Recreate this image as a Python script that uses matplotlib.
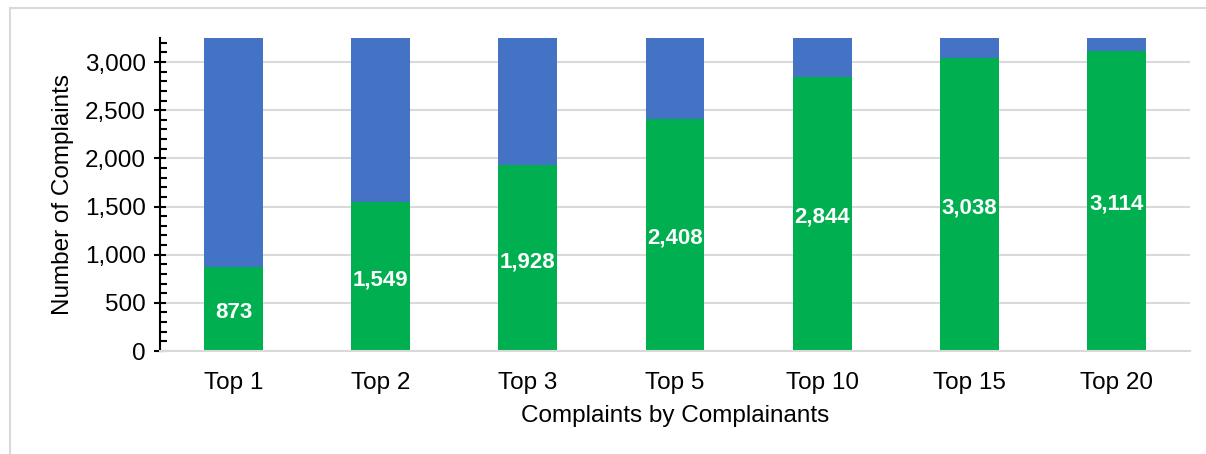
import numpy as np
import matplotlib.pyplot as plt
from matplotlib.lines import Line2D
from matplotlib.ticker import MultipleLocator, FuncFormatter

plt.rcParams['font.family'] = ['Liberation Sans', 'DejaVu Sans']

categories = ['Top 1', 'Top 2', 'Top 3', 'Top 5', 'Top 10', 'Top 15', 'Top 20']
by_top = [873, 1549, 1928, 2408, 2844, 3038, 3114]
total = [3250, 3250, 3250, 3250, 3250, 3250, 3250]

def main():
    fig = plt.figure(figsize=(12.06, 4.54), dpi=100)
    ax = fig.add_axes([160/1206, 1-351/454, 1030/1206, 313/454])

    x = np.arange(len(categories))
    rest = [t - v for t, v in zip(total, by_top)]
    green = '#00b050'
    blue = '#4472c4'

    ax.bar(x, by_top, width=0.4, color=green, zorder=2)
    ax.bar(x, rest, width=0.4, bottom=by_top, color=blue, zorder=2)

    for xi, v in zip(x, by_top):
        ax.text(xi, v/2 - 35, '{:,}'.format(v), ha='center', va='center',
                color='white', fontsize=16, fontweight='bold', zorder=3)

    ax.set_xlim(-0.5, len(categories) - 0.5)
    ax.set_ylim(0, 3250)
    ax.set_xticks(x)
    ax.set_xticklabels(categories, fontsize=17.5)
    ax.yaxis.set_major_locator(MultipleLocator(500))
    ax.yaxis.set_minor_locator(MultipleLocator(100))
    ax.yaxis.set_major_formatter(FuncFormatter(lambda v, p: '{:,.0f}'.format(v)))
    ax.tick_params(axis='y', which='major', labelsize=17.5, direction='inout',
                   length=8, width=1.5, pad=6)
    ax.tick_params(axis='y', which='minor', direction='in', length=5, width=1.5)
    ax.tick_params(axis='x', length=0, pad=15)

    ax.grid(axis='y', color='#d9d9d9', linewidth=1.5, zorder=0)
    ax.set_axisbelow(True)
    for s in ['top', 'right']:
        ax.spines[s].set_visible(False)
    ax.spines['bottom'].set_color('#d9d9d9')
    ax.spines['bottom'].set_linewidth(1.5)
    ax.spines['left'].set_linewidth(1.5)

    ax.set_xlabel('Complaints by Complainants', fontsize=17.5, labelpad=8)
    ax.set_ylabel('Number of Complaints', fontsize=17.5, labelpad=8)

    # light frame (left and top edges only)
    fx = 10/1206
    fy = 1 - 8/454
    fig.add_artist(Line2D([fx, fx], [0, fy], transform=fig.transFigure,
                          color='#d9d9d9', linewidth=1.5))
    fig.add_artist(Line2D([fx, 1], [fy, fy], transform=fig.transFigure,
                          color='#d9d9d9', linewidth=1.5))

    fig.savefig('out.png', dpi=100)

if __name__ == "__main__":
    main()
